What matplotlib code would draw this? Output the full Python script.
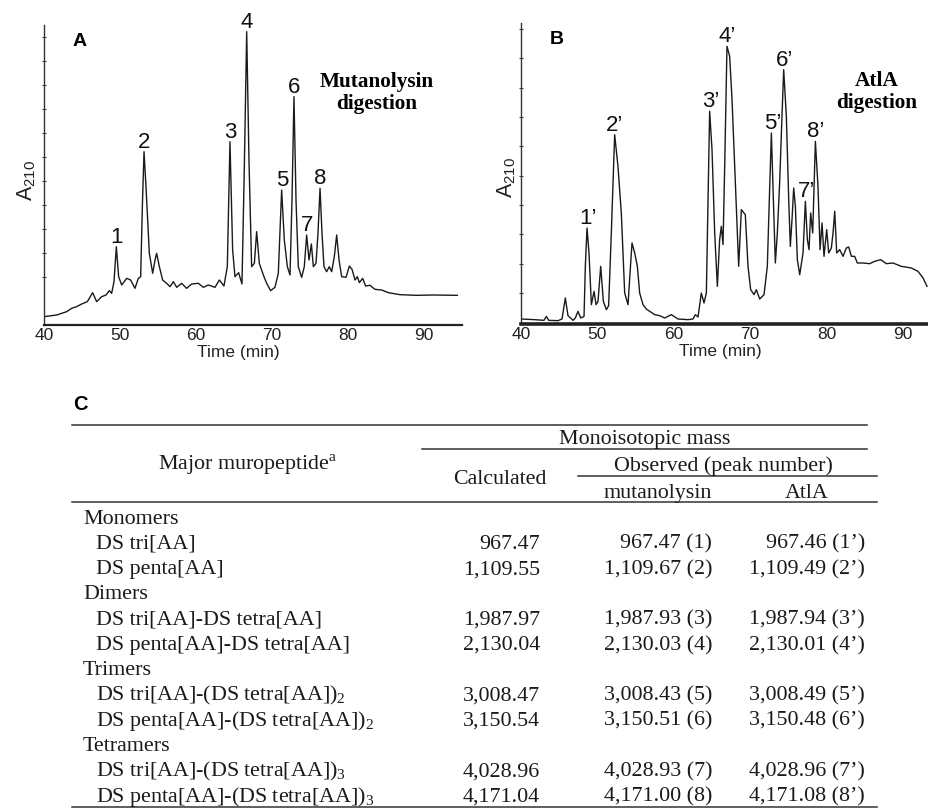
import numpy as np
import matplotlib
matplotlib.use("Agg")
import matplotlib.pyplot as plt
from matplotlib.lines import Line2D

plt.rcParams['mathtext.fontset'] = 'custom'
plt.rcParams['mathtext.rm'] = 'Liberation Serif'
plt.rcParams['mathtext.sf'] = 'Liberation Sans'
plt.rcParams['font.family'] = ['Liberation Sans', 'DejaVu Sans']

# ---------------- data: chromatogram A (mutanolysin) ----------------
time_A = [40.0, 41.67, 42.98, 43.64, 44.30, 44.96, 45.70, 46.40, 46.93, 47.59, 48.16, 48.60, 48.90,
          49.21, 49.52, 49.82, 50.22, 50.88, 51.40, 51.97, 52.41, 52.72, 52.94, 53.16, 53.42, 53.86,
          54.30, 54.61, 54.82, 55.18, 55.61, 56.14, 56.58, 57.02, 57.46, 58.11, 58.77, 59.43, 60.31,
          60.96, 61.62, 62.50, 63.07, 63.68, 64.12, 64.47, 64.82, 65.13, 65.61, 66.05, 66.36, 66.67,
          66.97, 67.32, 67.68, 67.98, 68.33, 68.86, 69.30, 69.82, 70.39, 70.83, 71.27, 71.62, 72.02,
          72.37, 72.63, 72.89, 73.16, 73.46, 73.90, 74.25, 74.56, 74.87, 75.18, 75.44, 75.79, 76.05,
          76.32, 76.58, 76.84, 77.19, 77.54, 77.85, 78.20, 78.51, 78.82, 79.17, 79.74, 80.18, 80.53,
          80.92, 81.23, 81.49, 81.93, 82.32, 82.89, 83.55, 84.43, 85.31, 86.84, 89.04, 91.23, 94.39]
signal_A = [25, 30, 40, 50, 55, 63, 70, 97, 70, 85, 90, 103, 95,
            130, 235, 145, 120, 140, 135, 110, 140, 145, 355, 520, 415, 215,
            155, 195, 215, 175, 135, 125, 115, 130, 113, 125, 110, 123, 125,
            113, 120, 113, 135, 117, 175, 550, 225, 145, 157, 123, 475, 880,
            495, 175, 185, 280, 185, 150, 125, 103, 113, 155, 405, 255, 175,
            150, 375, 685, 375, 175, 143, 175, 270, 195, 243, 175, 185, 275,
            410, 275, 175, 160, 175, 160, 205, 270, 195, 145, 143, 177, 167,
            135, 145, 127, 140, 117, 119, 107, 105, 97, 91, 89, 90, 89]
peak_labels_A = ["1", "2", "3", "4", "5", "6", "7", "8"]
peak_times_A = [49.5, 53.2, 64.5, 66.7, 71.3, 72.9, 74.6, 76.3]

# ---------------- data: chromatogram B (AtlA) ----------------
time_B = [40.00, 41.79, 43.01, 43.32, 43.62, 44.84, 45.37, 45.80, 46.15, 46.81, 47.11, 47.46, 47.81,
          48.25, 48.42, 48.64, 48.90, 49.21, 49.56, 49.82, 50.08, 50.43, 50.78, 51.17, 51.47, 51.82,
          52.26, 52.69, 53.13, 53.57, 54.01, 54.27, 54.53, 54.88, 55.23, 55.53, 55.97, 56.40, 56.84,
          57.50, 58.15, 58.80, 59.68, 60.55, 61.86, 62.51, 62.82, 63.17, 63.60, 63.95, 64.26, 64.48,
          64.69, 65.00, 65.35, 65.70, 66.00, 66.22, 66.44, 66.66, 66.96, 67.31, 67.62, 67.97, 68.49,
          68.84, 69.36, 69.71, 70.06, 70.50, 70.80, 71.24, 71.81, 72.24, 72.50, 72.77, 73.03, 73.29,
          73.55, 73.86, 74.08, 74.38, 74.73, 75.04, 75.25, 75.47, 75.69, 75.91, 76.17, 76.48, 76.91,
          77.22, 77.48, 77.70, 77.91, 78.18, 78.53, 78.87, 79.14, 79.40, 79.66, 80.01, 80.27, 80.62,
          80.84, 81.06, 81.32, 81.71, 82.15, 82.58, 82.89, 83.24, 83.67, 84.02, 84.76, 85.64, 86.29,
          87.08, 87.82, 88.69, 89.78, 91.09, 91.96, 92.62, 93.14]
signal_B = [15, 13, 11, 23, 11, 10, 15, 78, 25, 11, 18, 38, 18,
            23, 173, 288, 213, 58, 98, 58, 68, 173, 68, 43, 55, 273,
            568, 473, 333, 93, 58, 153, 243, 213, 173, 93, 58, 45, 38,
            28, 25, 18, 28, 15, 13, 15, 28, 21, 93, 63, 93, 373,
            638, 523, 273, 113, 253, 293, 238, 473, 833, 803, 673, 473, 173,
            343, 328, 173, 103, 88, 103, 75, 88, 173, 373, 573, 373, 183,
            273, 428, 573, 763, 623, 373, 233, 313, 408, 353, 193, 148, 213,
            368, 253, 223, 333, 273, 548, 413, 223, 303, 203, 283, 213, 228,
            273, 338, 213, 223, 203, 228, 231, 203, 203, 183, 183, 181, 188,
            193, 181, 183, 173, 168, 158, 138, 113]
peak_labels_B = ["1\u2019", "2\u2019", "3\u2019", "4\u2019", "5\u2019", "6\u2019", "7\u2019", "8\u2019"]
peak_times_B = [48.7, 52.3, 64.8, 67.0, 72.9, 74.5, 77.4, 78.5]

x_ticks = [40, 50, 60, 70, 80, 90]

# ---------------- data: table C ----------------
groups = ["Monomers", "Dimers", "Trimers", "Tetramers"]
muropeptides = [
    ["DS tri[AA]", "DS penta[AA]"],
    ["DS tri[AA]-DS tetra[AA]", "DS penta[AA]-DS tetra[AA]"],
    [r"DS tri[AA]-(DS tetra[AA])$_{\mathrm{2}}$", r"DS penta[AA]-(DS tetra[AA])$_{\mathrm{2}}$"],
    [r"DS tri[AA]-(DS tetra[AA])$_{\mathrm{3}}$", r"DS penta[AA]-(DS tetra[AA])$_{\mathrm{3}}$"],
]
calculated = ["967.47", "1,109.55", "1,987.97", "2,130.04", "3,008.47", "3,150.54", "4,028.96", "4,171.04"]
observed_mut = ["967.47 (1)", "1,109.67 (2)", "1,987.93 (3)", "2,130.03 (4)",
                "3,008.43 (5)", "3,150.51 (6)", "4,028.93 (7)", "4,171.00 (8)"]
observed_atla = ["967.46 (1\u2019)", "1,109.49 (2\u2019)", "1,987.94 (3\u2019)", "2,130.01 (4\u2019)",
                 "3,008.49 (5\u2019)", "3,150.48 (6\u2019)", "4,028.96 (7\u2019)", "4,171.08 (8\u2019)"]

# ---------------- figure ----------------
W, H = 929, 808
fig = plt.figure(figsize=(W / 100, H / 100), dpi=100)


def fx(px):
    return px / W


def fy(py):
    return 1 - py / H


def make_axes(left, right, bottom, top):
    return fig.add_axes([fx(left), fy(bottom), fx(right) - fx(left), fy(top) - fy(bottom)])


TRACE = '#1a1a1a'
SANS = ['Liberation Sans', 'DejaVu Sans']
SERIF = ['Liberation Serif', 'DejaVu Serif']


def style_axes(ax, xmax, ymax, yt, bottom_lw):
    ax.set_xlim(40, xmax)
    ax.set_ylim(0, ymax)
    for s in ['top', 'right']:
        ax.spines[s].set_visible(False)
    ax.spines['left'].set_linewidth(1.0)
    ax.spines['left'].set_color('#333333')
    ax.spines['bottom'].set_linewidth(bottom_lw)
    ax.spines['bottom'].set_color('#222222')
    ax.set_xticks(x_ticks)
    ax.set_xticklabels([str(t) for t in x_ticks], fontsize=12.5, family=SANS)
    ax.tick_params(axis='x', length=0, pad=2.5, colors='#222222')
    ax.set_yticks(yt)
    ax.set_yticklabels([])
    ax.tick_params(axis='y', direction='inout', length=3, width=0.8, colors='#444444')
    ax.patch.set_alpha(0)


def peak_label(ax, t_arr, s_arr, times, labels, dy, fs):
    t_arr = np.asarray(t_arr)
    s_arr = np.asarray(s_arr)
    for t, lab in zip(times, labels):
        m = np.abs(t_arr - t) <= 0.35
        y = s_arr[m].max() if m.any() else np.interp(t, t_arr, s_arr)
        ax.text(t, y + dy, lab, ha='center', va='baseline', fontsize=fs, family=SANS, color='#111111')


# Panel A
axA = make_axes(44, 462, 325, 25)
axA.plot(time_A, signal_A, color=TRACE, lw=1.0)
style_axes(axA, 95.0, 900, np.arange(145, 900, 72), 1.6)
peak_label(axA, time_A, signal_A, peak_times_A, peak_labels_A, 12, 16)
axA.text(0.464, -0.09, 'Time (min)', transform=axA.transAxes, ha='center', va='center',
         fontsize=12.5, family=SANS, color='#222222')
axA.text(-0.041, 0.483, r'A$_{\mathsf{210}}$', transform=axA.transAxes, ha='center', va='center',
         rotation=90, fontsize=15.5, family=SANS, color='#222222')
fig.text(fx(80), fy(42), 'A', ha='center', va='center', fontsize=14, fontweight='bold', family=SANS)
fig.text(fx(377), fy(93), 'Mutanolysin\ndigestion', ha='center', va='center', fontsize=15.3,
         fontweight='bold', family=SERIF, linespacing=1.1)

# Panel B
axB = make_axes(521, 929, 324, 23)
axB.plot(time_B, signal_B, color=TRACE, lw=1.0)
style_axes(axB, 93.4, 903, np.arange(93, 903, 88), 2.6)
peak_label(axB, time_B, signal_B, peak_times_B, peak_labels_B, 12, 16)
axB.text(0.488, -0.09, 'Time (min)', transform=axB.transAxes, ha='center', va='center',
         fontsize=12.5, family=SANS, color='#222222')
axB.text(-0.034, 0.488, r'A$_{\mathsf{210}}$', transform=axB.transAxes, ha='center', va='center',
         rotation=90, fontsize=15.5, family=SANS, color='#222222')
fig.text(fx(557), fy(39), 'B', ha='center', va='center', fontsize=14, fontweight='bold', family=SANS)
fig.text(fx(877), fy(92), 'AtlA\ndigestion', ha='center', va='center', fontsize=15.3,
         fontweight='bold', family=SERIF, linespacing=1.1)

# ---------------- Table C ----------------
TFS = 15.8
TC = '#1a1a1a'


def hline(y, x0, x1, lw=1.1):
    fig.add_artist(Line2D([fx(x0), fx(x1)], [fy(y), fy(y)], transform=fig.transFigure,
                          color='#333333', lw=lw))


def ttext(x, y, s, ha='left'):
    fig.text(fx(x), fy(y), s, ha=ha, va='baseline', fontsize=TFS, family=SERIF, color=TC)


fig.text(fx(80), fy(405), 'C', ha='center', va='center', fontsize=14.5, fontweight='bold', family=SANS)
hline(425, 72, 867)
hline(449, 422, 867)
hline(476, 578, 877)
hline(502, 72, 877)
hline(806.5, 72, 877)

ttext(248, 470, r'Major muropeptide$^{\mathrm{a}}$', ha='center')
ttext(645, 444, 'Monoisotopic mass', ha='center')
ttext(500, 483.5, 'Calculated', ha='center')
ttext(723, 471, 'Observed (peak number)', ha='center')
ttext(658, 498, 'mutanolysin', ha='center')
ttext(807, 498, 'AtlA', ha='center')

row_base0 = 523.5
row_step = 25.3
row = 0
k = 0
for g, items in zip(groups, muropeptides):
    ttext(83, row_base0 + row * row_step, g)
    row += 1
    for name in items:
        yb = row_base0 + row * row_step
        ttext(96, yb, name)
        ttext(540, yb, calculated[k], ha='right')
        ttext(712, yb, observed_mut[k], ha='right')
        ttext(865, yb, observed_atla[k], ha='right')
        k += 1
        row += 1

fig.savefig('out.png', dpi=100)
